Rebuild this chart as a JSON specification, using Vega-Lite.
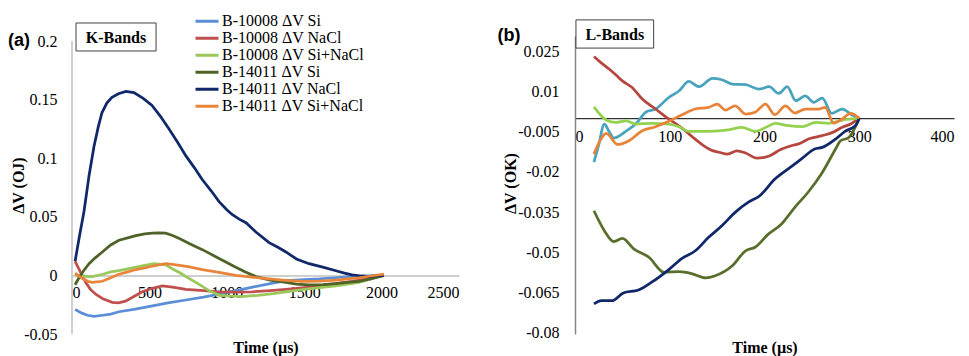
{
"$schema": "https://vega.github.io/schema/vega-lite/v6.json",
"background": "white",
"padding": {"left": 8, "top": 13, "right": 2, "bottom": 2},
"bounds": "flush",
"spacing": 116,
"config": {
  "font": "Liberation Serif",
  "view": {"stroke": null},
  "style": {"guide-label": {"font": "Liberation Serif", "fontSize": 16, "fill": "#000"}, "guide-title": {"font": "Liberation Serif", "fontSize": 16, "fontWeight": "bold", "fill": "#000"}},
  "axis": {"grid": false, "ticks": false, "labelFont": "Liberation Serif", "labelFontSize": 16, "labelColor": "#000", "titleFont": "Liberation Serif", "titleFontSize": 16, "titleFontWeight": "bold", "titleColor": "#000"},
  "legend": {"symbolType": "stroke", "symbolStrokeWidth": 3, "symbolSize": 529, "labelFont": "Liberation Serif", "labelFontSize": 16, "labelColor": "#000", "rowPadding": 0, "labelOffset": 2, "clipHeight": 16.7, "labelLimit": 300, "padding": 0}
},
"datasets": {
"k": [
{"s":"B-10008 ΔV Si","t":20,"v":-0.029},{"s":"B-10008 ΔV Si","t":60,"v":-0.032},{"s":"B-10008 ΔV Si","t":100,"v":-0.034},{"s":"B-10008 ΔV Si","t":142,"v":-0.035},{"s":"B-10008 ΔV Si","t":200,"v":-0.034},{"s":"B-10008 ΔV Si","t":250,"v":-0.033},{"s":"B-10008 ΔV Si","t":303,"v":-0.031},{"s":"B-10008 ΔV Si","t":400,"v":-0.029},{"s":"B-10008 ΔV Si","t":520,"v":-0.026},{"s":"B-10008 ΔV Si","t":620,"v":-0.0235},{"s":"B-10008 ΔV Si","t":736,"v":-0.021},{"s":"B-10008 ΔV Si","t":850,"v":-0.0185},{"s":"B-10008 ΔV Si","t":950,"v":-0.016},{"s":"B-10008 ΔV Si","t":1060,"v":-0.013},{"s":"B-10008 ΔV Si","t":1166,"v":-0.010},{"s":"B-10008 ΔV Si","t":1280,"v":-0.007},{"s":"B-10008 ΔV Si","t":1382,"v":-0.0045},{"s":"B-10008 ΔV Si","t":1500,"v":-0.0035},{"s":"B-10008 ΔV Si","t":1598,"v":-0.003},{"s":"B-10008 ΔV Si","t":1700,"v":-0.002},{"s":"B-10008 ΔV Si","t":1809,"v":-0.001},{"s":"B-10008 ΔV Si","t":1900,"v":-0.0005},{"s":"B-10008 ΔV Si","t":2015,"v":0.0},
{"s":"B-10008 ΔV NaCl","t":20,"v":0.012},{"s":"B-10008 ΔV NaCl","t":50,"v":0.004},{"s":"B-10008 ΔV NaCl","t":89,"v":-0.006},{"s":"B-10008 ΔV NaCl","t":120,"v":-0.012},{"s":"B-10008 ΔV NaCl","t":153,"v":-0.016},{"s":"B-10008 ΔV NaCl","t":200,"v":-0.020},{"s":"B-10008 ΔV NaCl","t":260,"v":-0.023},{"s":"B-10008 ΔV NaCl","t":300,"v":-0.0235},{"s":"B-10008 ΔV NaCl","t":346,"v":-0.022},{"s":"B-10008 ΔV NaCl","t":400,"v":-0.018},{"s":"B-10008 ΔV NaCl","t":454,"v":-0.014},{"s":"B-10008 ΔV NaCl","t":520,"v":-0.011},{"s":"B-10008 ΔV NaCl","t":583,"v":-0.009},{"s":"B-10008 ΔV NaCl","t":650,"v":-0.010},{"s":"B-10008 ΔV NaCl","t":736,"v":-0.012},{"s":"B-10008 ΔV NaCl","t":850,"v":-0.013},{"s":"B-10008 ΔV NaCl","t":950,"v":-0.014},{"s":"B-10008 ΔV NaCl","t":1060,"v":-0.0142},{"s":"B-10008 ΔV NaCl","t":1166,"v":-0.014},{"s":"B-10008 ΔV NaCl","t":1280,"v":-0.013},{"s":"B-10008 ΔV NaCl","t":1382,"v":-0.012},{"s":"B-10008 ΔV NaCl","t":1500,"v":-0.0105},{"s":"B-10008 ΔV NaCl","t":1598,"v":-0.009},{"s":"B-10008 ΔV NaCl","t":1700,"v":-0.007},{"s":"B-10008 ΔV NaCl","t":1809,"v":-0.005},{"s":"B-10008 ΔV NaCl","t":1900,"v":-0.003},{"s":"B-10008 ΔV NaCl","t":2015,"v":0.0},
{"s":"B-10008 ΔV Si+NaCl","t":20,"v":0.0},{"s":"B-10008 ΔV Si+NaCl","t":60,"v":0.0},{"s":"B-10008 ΔV Si+NaCl","t":100,"v":-0.001},{"s":"B-10008 ΔV Si+NaCl","t":130,"v":-0.001},{"s":"B-10008 ΔV Si+NaCl","t":200,"v":0.001},{"s":"B-10008 ΔV Si+NaCl","t":250,"v":0.003},{"s":"B-10008 ΔV Si+NaCl","t":303,"v":0.004},{"s":"B-10008 ΔV Si+NaCl","t":360,"v":0.0055},{"s":"B-10008 ΔV Si+NaCl","t":413,"v":0.007},{"s":"B-10008 ΔV Si+NaCl","t":470,"v":0.0085},{"s":"B-10008 ΔV Si+NaCl","t":530,"v":0.010},{"s":"B-10008 ΔV Si+NaCl","t":570,"v":0.0095},{"s":"B-10008 ΔV Si+NaCl","t":605,"v":0.009},{"s":"B-10008 ΔV Si+NaCl","t":650,"v":0.0055},{"s":"B-10008 ΔV Si+NaCl","t":700,"v":0.002},{"s":"B-10008 ΔV Si+NaCl","t":736,"v":-0.001},{"s":"B-10008 ΔV Si+NaCl","t":800,"v":-0.006},{"s":"B-10008 ΔV Si+NaCl","t":850,"v":-0.010},{"s":"B-10008 ΔV Si+NaCl","t":885,"v":-0.013},{"s":"B-10008 ΔV Si+NaCl","t":920,"v":-0.015},{"s":"B-10008 ΔV Si+NaCl","t":950,"v":-0.017},{"s":"B-10008 ΔV Si+NaCl","t":1000,"v":-0.0175},{"s":"B-10008 ΔV Si+NaCl","t":1098,"v":-0.018},{"s":"B-10008 ΔV Si+NaCl","t":1200,"v":-0.017},{"s":"B-10008 ΔV Si+NaCl","t":1300,"v":-0.0155},{"s":"B-10008 ΔV Si+NaCl","t":1382,"v":-0.014},{"s":"B-10008 ΔV Si+NaCl","t":1500,"v":-0.012},{"s":"B-10008 ΔV Si+NaCl","t":1600,"v":-0.0105},{"s":"B-10008 ΔV Si+NaCl","t":1705,"v":-0.009},{"s":"B-10008 ΔV Si+NaCl","t":1780,"v":-0.0075},{"s":"B-10008 ΔV Si+NaCl","t":1854,"v":-0.006},{"s":"B-10008 ΔV Si+NaCl","t":1930,"v":-0.003},{"s":"B-10008 ΔV Si+NaCl","t":2015,"v":0.0},
{"s":"B-14011 ΔV Si","t":20,"v":-0.008},{"s":"B-14011 ΔV Si","t":45,"v":-0.002},{"s":"B-14011 ΔV Si","t":75,"v":0.004},{"s":"B-14011 ΔV Si","t":110,"v":0.010},{"s":"B-14011 ΔV Si","t":150,"v":0.015},{"s":"B-14011 ΔV Si","t":196,"v":0.020},{"s":"B-14011 ΔV Si","t":250,"v":0.026},{"s":"B-14011 ΔV Si","t":303,"v":0.030},{"s":"B-14011 ΔV Si","t":360,"v":0.032},{"s":"B-14011 ΔV Si","t":413,"v":0.034},{"s":"B-14011 ΔV Si","t":470,"v":0.0355},{"s":"B-14011 ΔV Si","t":520,"v":0.036},{"s":"B-14011 ΔV Si","t":560,"v":0.0362},{"s":"B-14011 ΔV Si","t":605,"v":0.036},{"s":"B-14011 ΔV Si","t":650,"v":0.034},{"s":"B-14011 ΔV Si","t":700,"v":0.031},{"s":"B-14011 ΔV Si","t":760,"v":0.027},{"s":"B-14011 ΔV Si","t":842,"v":0.022},{"s":"B-14011 ΔV Si","t":950,"v":0.0145},{"s":"B-14011 ΔV Si","t":1058,"v":0.007},{"s":"B-14011 ΔV Si","t":1120,"v":0.003},{"s":"B-14011 ΔV Si","t":1188,"v":-0.001},{"s":"B-14011 ΔV Si","t":1280,"v":-0.004},{"s":"B-14011 ΔV Si","t":1382,"v":-0.006},{"s":"B-14011 ΔV Si","t":1450,"v":-0.0075},{"s":"B-14011 ΔV Si","t":1531,"v":-0.008},{"s":"B-14011 ΔV Si","t":1620,"v":-0.0078},{"s":"B-14011 ΔV Si","t":1705,"v":-0.007},{"s":"B-14011 ΔV Si","t":1780,"v":-0.006},{"s":"B-14011 ΔV Si","t":1854,"v":-0.005},{"s":"B-14011 ΔV Si","t":1930,"v":-0.003},{"s":"B-14011 ΔV Si","t":2015,"v":0.0},
{"s":"B-14011 ΔV NaCl","t":20,"v":0.012},{"s":"B-14011 ΔV NaCl","t":50,"v":0.035},{"s":"B-14011 ΔV NaCl","t":77,"v":0.054},{"s":"B-14011 ΔV NaCl","t":110,"v":0.085},{"s":"B-14011 ΔV NaCl","t":142,"v":0.110},{"s":"B-14011 ΔV NaCl","t":170,"v":0.127},{"s":"B-14011 ΔV NaCl","t":194,"v":0.139},{"s":"B-14011 ΔV NaCl","t":225,"v":0.147},{"s":"B-14011 ΔV NaCl","t":258,"v":0.152},{"s":"B-14011 ΔV NaCl","t":300,"v":0.155},{"s":"B-14011 ΔV NaCl","t":348,"v":0.157},{"s":"B-14011 ΔV NaCl","t":400,"v":0.156},{"s":"B-14011 ΔV NaCl","t":460,"v":0.151},{"s":"B-14011 ΔV NaCl","t":517,"v":0.145},{"s":"B-14011 ΔV NaCl","t":570,"v":0.136},{"s":"B-14011 ΔV NaCl","t":627,"v":0.125},{"s":"B-14011 ΔV NaCl","t":680,"v":0.114},{"s":"B-14011 ΔV NaCl","t":736,"v":0.102},{"s":"B-14011 ΔV NaCl","t":790,"v":0.092},{"s":"B-14011 ΔV NaCl","t":840,"v":0.082},{"s":"B-14011 ΔV NaCl","t":900,"v":0.072},{"s":"B-14011 ΔV NaCl","t":950,"v":0.063},{"s":"B-14011 ΔV NaCl","t":1000,"v":0.056},{"s":"B-14011 ΔV NaCl","t":1034,"v":0.052},{"s":"B-14011 ΔV NaCl","t":1080,"v":0.048},{"s":"B-14011 ΔV NaCl","t":1124,"v":0.045},{"s":"B-14011 ΔV NaCl","t":1188,"v":0.037},{"s":"B-14011 ΔV NaCl","t":1273,"v":0.028},{"s":"B-14011 ΔV NaCl","t":1330,"v":0.024},{"s":"B-14011 ΔV NaCl","t":1382,"v":0.020},{"s":"B-14011 ΔV NaCl","t":1450,"v":0.014},{"s":"B-14011 ΔV NaCl","t":1531,"v":0.010},{"s":"B-14011 ΔV NaCl","t":1620,"v":0.007},{"s":"B-14011 ΔV NaCl","t":1705,"v":0.004},{"s":"B-14011 ΔV NaCl","t":1760,"v":0.002},{"s":"B-14011 ΔV NaCl","t":1809,"v":0.0005},{"s":"B-14011 ΔV NaCl","t":1870,"v":-0.0005},{"s":"B-14011 ΔV NaCl","t":1915,"v":-0.001},{"s":"B-14011 ΔV NaCl","t":1960,"v":-0.0005},{"s":"B-14011 ΔV NaCl","t":2015,"v":0.0},
{"s":"B-14011 ΔV Si+NaCl","t":20,"v":0.002},{"s":"B-14011 ΔV Si+NaCl","t":60,"v":-0.002},{"s":"B-14011 ΔV Si+NaCl","t":100,"v":-0.005},{"s":"B-14011 ΔV Si+NaCl","t":130,"v":-0.006},{"s":"B-14011 ΔV Si+NaCl","t":196,"v":-0.005},{"s":"B-14011 ΔV Si+NaCl","t":250,"v":-0.002},{"s":"B-14011 ΔV Si+NaCl","t":303,"v":0.001},{"s":"B-14011 ΔV Si+NaCl","t":360,"v":0.003},{"s":"B-14011 ΔV Si+NaCl","t":413,"v":0.005},{"s":"B-14011 ΔV Si+NaCl","t":470,"v":0.0065},{"s":"B-14011 ΔV Si+NaCl","t":520,"v":0.008},{"s":"B-14011 ΔV Si+NaCl","t":560,"v":0.009},{"s":"B-14011 ΔV Si+NaCl","t":605,"v":0.010},{"s":"B-14011 ΔV Si+NaCl","t":650,"v":0.0095},{"s":"B-14011 ΔV Si+NaCl","t":750,"v":0.0075},{"s":"B-14011 ΔV Si+NaCl","t":842,"v":0.005},{"s":"B-14011 ΔV Si+NaCl","t":950,"v":0.0025},{"s":"B-14011 ΔV Si+NaCl","t":1058,"v":0.0},{"s":"B-14011 ΔV Si+NaCl","t":1160,"v":-0.0015},{"s":"B-14011 ΔV Si+NaCl","t":1273,"v":-0.003},{"s":"B-14011 ΔV Si+NaCl","t":1380,"v":-0.0042},{"s":"B-14011 ΔV Si+NaCl","t":1488,"v":-0.005},{"s":"B-14011 ΔV Si+NaCl","t":1600,"v":-0.0048},{"s":"B-14011 ΔV Si+NaCl","t":1705,"v":-0.004},{"s":"B-14011 ΔV Si+NaCl","t":1780,"v":-0.003},{"s":"B-14011 ΔV Si+NaCl","t":1854,"v":-0.002},{"s":"B-14011 ΔV Si+NaCl","t":1930,"v":-0.0005},{"s":"B-14011 ΔV Si+NaCl","t":2015,"v":0.001}
],
"l": [
{"s":"B-10008 ΔV Si","t":20,"v":-0.0164},{"s":"B-10008 ΔV Si","t":25,"v":-0.0100},{"s":"B-10008 ΔV Si","t":31,"v":-0.0022},{"s":"B-10008 ΔV Si","t":36,"v":-0.0050},{"s":"B-10008 ΔV Si","t":41,"v":-0.0074},{"s":"B-10008 ΔV Si","t":54,"v":-0.0048},{"s":"B-10008 ΔV Si","t":64,"v":-0.0022},{"s":"B-10008 ΔV Si","t":75,"v":0.0023},{"s":"B-10008 ΔV Si","t":85,"v":0.0034},{"s":"B-10008 ΔV Si","t":99,"v":0.0077},{"s":"B-10008 ΔV Si","t":110,"v":0.0102},{"s":"B-10008 ΔV Si","t":120,"v":0.0137},{"s":"B-10008 ΔV Si","t":131,"v":0.0117},{"s":"B-10008 ΔV Si","t":145,"v":0.0148},{"s":"B-10008 ΔV Si","t":155,"v":0.0143},{"s":"B-10008 ΔV Si","t":166,"v":0.0127},{"s":"B-10008 ΔV Si","t":180,"v":0.0125},{"s":"B-10008 ΔV Si","t":194,"v":0.0108},{"s":"B-10008 ΔV Si","t":205,"v":0.0117},{"s":"B-10008 ΔV Si","t":215,"v":0.0092},{"s":"B-10008 ΔV Si","t":224,"v":0.0117},{"s":"B-10008 ΔV Si","t":233,"v":0.0065},{"s":"B-10008 ΔV Si","t":243,"v":0.0083},{"s":"B-10008 ΔV Si","t":252,"v":0.0059},{"s":"B-10008 ΔV Si","t":261,"v":0.0075},{"s":"B-10008 ΔV Si","t":271,"v":0.0018},{"s":"B-10008 ΔV Si","t":282,"v":0.0034},{"s":"B-10008 ΔV Si","t":292,"v":0.0013},{"s":"B-10008 ΔV Si","t":300,"v":0.0},
{"s":"B-10008 ΔV NaCl","t":20,"v":0.0230},{"s":"B-10008 ΔV NaCl","t":28,"v":0.0205},{"s":"B-10008 ΔV NaCl","t":36,"v":0.0183},{"s":"B-10008 ΔV NaCl","t":45,"v":0.0155},{"s":"B-10008 ΔV NaCl","t":50,"v":0.0139},{"s":"B-10008 ΔV NaCl","t":60,"v":0.0115},{"s":"B-10008 ΔV NaCl","t":71,"v":0.0071},{"s":"B-10008 ΔV NaCl","t":85,"v":0.0034},{"s":"B-10008 ΔV NaCl","t":99,"v":-0.0003},{"s":"B-10008 ΔV NaCl","t":110,"v":-0.0030},{"s":"B-10008 ΔV NaCl","t":117,"v":-0.0049},{"s":"B-10008 ΔV NaCl","t":124,"v":-0.0070},{"s":"B-10008 ΔV NaCl","t":134,"v":-0.0098},{"s":"B-10008 ΔV NaCl","t":145,"v":-0.0121},{"s":"B-10008 ΔV NaCl","t":152,"v":-0.0127},{"s":"B-10008 ΔV NaCl","t":161,"v":-0.0134},{"s":"B-10008 ΔV NaCl","t":171,"v":-0.0122},{"s":"B-10008 ΔV NaCl","t":180,"v":-0.0130},{"s":"B-10008 ΔV NaCl","t":192,"v":-0.0149},{"s":"B-10008 ΔV NaCl","t":205,"v":-0.0141},{"s":"B-10008 ΔV NaCl","t":217,"v":-0.0117},{"s":"B-10008 ΔV NaCl","t":229,"v":-0.0102},{"s":"B-10008 ΔV NaCl","t":236,"v":-0.0096},{"s":"B-10008 ΔV NaCl","t":247,"v":-0.0077},{"s":"B-10008 ΔV NaCl","t":261,"v":-0.0065},{"s":"B-10008 ΔV NaCl","t":272,"v":-0.0053},{"s":"B-10008 ΔV NaCl","t":282,"v":-0.0034},{"s":"B-10008 ΔV NaCl","t":291,"v":-0.0022},{"s":"B-10008 ΔV NaCl","t":300,"v":0.0},
{"s":"B-10008 ΔV Si+NaCl","t":20,"v":0.0042},{"s":"B-10008 ΔV Si+NaCl","t":33,"v":-0.0007},{"s":"B-10008 ΔV Si+NaCl","t":43,"v":-0.0016},{"s":"B-10008 ΔV Si+NaCl","t":54,"v":-0.0010},{"s":"B-10008 ΔV Si+NaCl","t":64,"v":-0.0022},{"s":"B-10008 ΔV Si+NaCl","t":81,"v":-0.0019},{"s":"B-10008 ΔV Si+NaCl","t":99,"v":-0.0022},{"s":"B-10008 ΔV Si+NaCl","t":110,"v":-0.0032},{"s":"B-10008 ΔV Si+NaCl","t":120,"v":-0.0049},{"s":"B-10008 ΔV Si+NaCl","t":141,"v":-0.0049},{"s":"B-10008 ΔV Si+NaCl","t":162,"v":-0.0044},{"s":"B-10008 ΔV Si+NaCl","t":176,"v":-0.0034},{"s":"B-10008 ΔV Si+NaCl","t":190,"v":-0.0049},{"s":"B-10008 ΔV Si+NaCl","t":205,"v":-0.0028},{"s":"B-10008 ΔV Si+NaCl","t":211,"v":-0.0019},{"s":"B-10008 ΔV Si+NaCl","t":225,"v":-0.0028},{"s":"B-10008 ΔV Si+NaCl","t":240,"v":-0.0032},{"s":"B-10008 ΔV Si+NaCl","t":254,"v":-0.0016},{"s":"B-10008 ΔV Si+NaCl","t":268,"v":-0.0019},{"s":"B-10008 ΔV Si+NaCl","t":282,"v":-0.0007},{"s":"B-10008 ΔV Si+NaCl","t":300,"v":0.0},
{"s":"B-14011 ΔV Si","t":20,"v":-0.0345},{"s":"B-14011 ΔV Si","t":31,"v":-0.0419},{"s":"B-14011 ΔV Si","t":41,"v":-0.0460},{"s":"B-14011 ΔV Si","t":50,"v":-0.0448},{"s":"B-14011 ΔV Si","t":62,"v":-0.0487},{"s":"B-14011 ΔV Si","t":78,"v":-0.0518},{"s":"B-14011 ΔV Si","t":94,"v":-0.0574},{"s":"B-14011 ΔV Si","t":110,"v":-0.0572},{"s":"B-14011 ΔV Si","t":124,"v":-0.0580},{"s":"B-14011 ΔV Si","t":138,"v":-0.0595},{"s":"B-14011 ΔV Si","t":148,"v":-0.0587},{"s":"B-14011 ΔV Si","t":166,"v":-0.0550},{"s":"B-14011 ΔV Si","t":180,"v":-0.0494},{"s":"B-14011 ΔV Si","t":190,"v":-0.0481},{"s":"B-14011 ΔV Si","t":204,"v":-0.0432},{"s":"B-14011 ΔV Si","t":218,"v":-0.0394},{"s":"B-14011 ΔV Si","t":232,"v":-0.0332},{"s":"B-14011 ΔV Si","t":246,"v":-0.0276},{"s":"B-14011 ΔV Si","t":260,"v":-0.0208},{"s":"B-14011 ΔV Si","t":275,"v":-0.0115},{"s":"B-14011 ΔV Si","t":280,"v":-0.0085},{"s":"B-14011 ΔV Si","t":289,"v":-0.0072},{"s":"B-14011 ΔV Si","t":300,"v":0.0},
{"s":"B-14011 ΔV NaCl","t":20,"v":-0.0692},{"s":"B-14011 ΔV NaCl","t":28,"v":-0.0680},{"s":"B-14011 ΔV NaCl","t":39,"v":-0.0680},{"s":"B-14011 ΔV NaCl","t":51,"v":-0.0651},{"s":"B-14011 ΔV NaCl","t":67,"v":-0.0640},{"s":"B-14011 ΔV NaCl","t":81,"v":-0.0611},{"s":"B-14011 ΔV NaCl","t":99,"v":-0.0564},{"s":"B-14011 ΔV NaCl","t":113,"v":-0.0522},{"s":"B-14011 ΔV NaCl","t":127,"v":-0.0494},{"s":"B-14011 ΔV NaCl","t":141,"v":-0.0444},{"s":"B-14011 ΔV NaCl","t":155,"v":-0.0401},{"s":"B-14011 ΔV NaCl","t":169,"v":-0.0351},{"s":"B-14011 ΔV NaCl","t":183,"v":-0.0313},{"s":"B-14011 ΔV NaCl","t":195,"v":-0.0289},{"s":"B-14011 ΔV NaCl","t":211,"v":-0.0227},{"s":"B-14011 ΔV NaCl","t":225,"v":-0.0189},{"s":"B-14011 ΔV NaCl","t":239,"v":-0.0152},{"s":"B-14011 ΔV NaCl","t":253,"v":-0.0115},{"s":"B-14011 ΔV NaCl","t":261,"v":-0.0109},{"s":"B-14011 ΔV NaCl","t":275,"v":-0.0078},{"s":"B-14011 ΔV NaCl","t":285,"v":-0.0049},{"s":"B-14011 ΔV NaCl","t":296,"v":-0.0028},{"s":"B-14011 ΔV NaCl","t":300,"v":0.0},
{"s":"B-14011 ΔV Si+NaCl","t":20,"v":-0.0134},{"s":"B-14011 ΔV Si+NaCl","t":27,"v":-0.0080},{"s":"B-14011 ΔV Si+NaCl","t":33,"v":-0.0057},{"s":"B-14011 ΔV Si+NaCl","t":45,"v":-0.0098},{"s":"B-14011 ΔV Si+NaCl","t":57,"v":-0.0084},{"s":"B-14011 ΔV Si+NaCl","t":71,"v":-0.0047},{"s":"B-14011 ΔV Si+NaCl","t":85,"v":-0.0032},{"s":"B-14011 ΔV Si+NaCl","t":99,"v":-0.0012},{"s":"B-14011 ΔV Si+NaCl","t":113,"v":0.0013},{"s":"B-14011 ΔV Si+NaCl","t":127,"v":0.0034},{"s":"B-14011 ΔV Si+NaCl","t":141,"v":0.0040},{"s":"B-14011 ΔV Si+NaCl","t":150,"v":0.0052},{"s":"B-14011 ΔV Si+NaCl","t":159,"v":0.0030},{"s":"B-14011 ΔV Si+NaCl","t":169,"v":0.0046},{"s":"B-14011 ΔV Si+NaCl","t":180,"v":0.0015},{"s":"B-14011 ΔV Si+NaCl","t":190,"v":0.0022},{"s":"B-14011 ΔV Si+NaCl","t":201,"v":0.0052},{"s":"B-14011 ΔV Si+NaCl","t":211,"v":0.0013},{"s":"B-14011 ΔV Si+NaCl","t":222,"v":0.0046},{"s":"B-14011 ΔV Si+NaCl","t":232,"v":0.0019},{"s":"B-14011 ΔV Si+NaCl","t":243,"v":0.0034},{"s":"B-14011 ΔV Si+NaCl","t":257,"v":0.0034},{"s":"B-14011 ΔV Si+NaCl","t":264,"v":0.0040},{"s":"B-14011 ΔV Si+NaCl","t":273,"v":-0.0019},{"s":"B-14011 ΔV Si+NaCl","t":282,"v":-0.0003},{"s":"B-14011 ΔV Si+NaCl","t":291,"v":0.0018},{"s":"B-14011 ΔV Si+NaCl","t":300,"v":0.0}
]
},
"hconcat": [
{
  "width": 387, "height": 298,
  "layer": [
    {"data": {"name": "k"}, "mark": {"type": "line", "strokeWidth": 2.75},
     "encoding": {
       "x": {"field": "t", "type": "quantitative", "scale": {"domain": [0, 2500], "nice": false},
             "axis": {"values": [0, 500, 1000, 1500, 2000, 2500], "labelExpr": "'' + datum.value", "labelFont": "Liberation Serif", "offset": -58.6, "domainColor": "#BFBFBF", "domainWidth": 1.5, "labelPadding": 9, "title": "Time (µs)", "titleFont": "Liberation Serif", "titleY": 72, "titleBaseline": "middle"}},
       "y": {"field": "v", "type": "quantitative", "scale": {"domain": [-0.05, 0.2043], "nice": false, "zero": false},
             "axis": {"values": [-0.05, 0, 0.05, 0.1, 0.15, 0.2], "labelExpr": "'' + datum.value", "labelFont": "Liberation Serif", "domain": false, "labelPadding": 15, "title": "ΔV (OJ)", "titleFont": "Liberation Serif", "titleX": -54, "titleY": 149, "titleAngle": 270, "titleBaseline": "middle", "titleAlign": "center"}},
       "color": {"field": "s", "type": "nominal",
                 "scale": {"domain": ["B-10008 ΔV Si", "B-10008 ΔV NaCl", "B-10008 ΔV Si+NaCl", "B-14011 ΔV Si", "B-14011 ΔV NaCl", "B-14011 ΔV Si+NaCl"],
                           "range": ["#5B8ED6", "#C0504D", "#9BC85B", "#4F6228", "#10286A", "#E9853B"]},
                 "legend": {"orient": "none", "legendX": 122, "legendY": -23, "title": null}}
     }},
    {"data": {"values": [{}]}, "mark": {"type": "rule", "color": "#BFBFBF", "strokeWidth": 1.5},
     "encoding": {"x": {"datum": 0, "type": "quantitative"},
                  "y": {"datum": 0.2, "type": "quantitative"},
                  "y2": {"datum": -0.05}}},
    {"data": {"values": [{}]}, "mark": {"type": "rect", "fill": "white", "stroke": "#404040", "strokeWidth": 1},
     "encoding": {"x": {"datum": 26, "type": "quantitative"}, "x2": {"datum": 543},
                  "y": {"datum": 0.2154, "type": "quantitative"}, "y2": {"datum": 0.1915}}},
    {"data": {"values": [{}]}, "mark": {"type": "text", "font": "Liberation Serif", "fontSize": 16, "fontWeight": "bold", "color": "#000"},
     "encoding": {"x": {"datum": 284, "type": "quantitative"},
                  "y": {"datum": 0.2026, "type": "quantitative"},
                  "text": {"value": "K-Bands"}}},
    {"data": {"values": [{}]}, "mark": {"type": "text", "font": "Liberation Sans", "fontSize": 18, "fontWeight": "bold", "color": "#000", "dx": -53},
     "encoding": {"x": {"datum": 0, "type": "quantitative"},
                  "y": {"datum": 0.2, "type": "quantitative"},
                  "text": {"value": "(a)"}}}
  ]
},
{
  "width": 379, "height": 298,
  "layer": [
    {"data": {"name": "l"}, "mark": {"type": "line", "strokeWidth": 2.75, "interpolate": "monotone"},
     "encoding": {
       "x": {"field": "t", "type": "quantitative", "scale": {"domain": [0, 400], "nice": false},
             "axis": {"values": [0, 100, 200, 300, 400], "labelExpr": "'' + datum.value", "labelFont": "Liberation Serif", "offset": -215.8, "domainColor": "#000", "domainWidth": 1, "labelPadding": 10, "title": "Time (µs)", "titleFont": "Liberation Serif", "titleY": 229, "titleBaseline": "middle"}},
       "y": {"field": "v", "type": "quantitative", "scale": {"domain": [-0.0804, 0.0306], "nice": false, "zero": false},
             "axis": {"values": [0.025, 0.01, -0.005, -0.02, -0.035, -0.05, -0.065, -0.08], "labelExpr": "'' + datum.value", "labelFont": "Liberation Serif", "domainColor": "#868686", "domainWidth": 1.5, "labelPadding": 16, "title": "ΔV (OK)", "titleFont": "Liberation Serif", "titleX": -65, "titleY": 147, "titleAngle": 270, "titleBaseline": "middle", "titleAlign": "center"}},
       "color": {"field": "s", "type": "nominal",
                 "scale": {"domain": ["B-10008 ΔV Si", "B-10008 ΔV NaCl", "B-10008 ΔV Si+NaCl", "B-14011 ΔV Si", "B-14011 ΔV NaCl", "B-14011 ΔV Si+NaCl"],
                           "range": ["#4AA3BD", "#B5473F", "#93D14F", "#5A6E2C", "#10286A", "#E8843A"]},
                 "legend": null}
     }},
    {"data": {"values": [{}]}, "mark": {"type": "rect", "fill": "white", "stroke": "#404040", "strokeWidth": 1},
     "encoding": {"x": {"datum": 1, "type": "quantitative"}, "x2": {"datum": 83},
                  "y": {"datum": 0.0366, "type": "quantitative"}, "y2": {"datum": 0.0261}}},
    {"data": {"values": [{}]}, "mark": {"type": "text", "font": "Liberation Serif", "fontSize": 16, "fontWeight": "bold", "color": "#000"},
     "encoding": {"x": {"datum": 42, "type": "quantitative"},
                  "y": {"datum": 0.0310, "type": "quantitative"},
                  "text": {"value": "L-Bands"}}},
    {"data": {"values": [{}]}, "mark": {"type": "text", "font": "Liberation Sans", "fontSize": 18, "fontWeight": "bold", "color": "#000", "dx": -66},
     "encoding": {"x": {"datum": 0, "type": "quantitative"},
                  "y": {"datum": 0.0306, "type": "quantitative"},
                  "text": {"value": "(b)"}}}
  ]
}
],
"resolve": {"scale": {"color": "independent"}}
}
